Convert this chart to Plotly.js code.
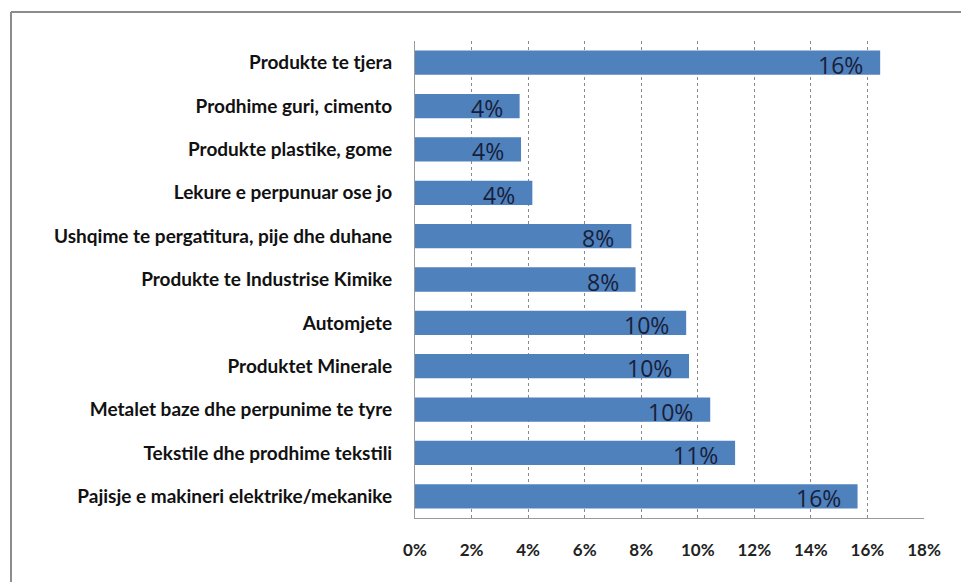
<!DOCTYPE html>
<html>
<head>
<meta charset="utf-8">
<script src="https://cdn.plot.ly/plotly-3.0.1.min.js"></script>
<style>html,body{margin:0;padding:0;background:#fff;}#chart{width:961px;height:582px;}</style>
</head>
<body>
<div id="chart"></div>
<script>
// Categories listed bottom to top
const categories = [
  "Pajisje e makineri elektrike/mekanike",
  "Tekstile dhe prodhime tekstili",
  "Metalet baze dhe perpunime te tyre",
  "Produktet Minerale",
  "Automjete",
  "Produkte te Industrise Kimike",
  "Ushqime te pergatitura, pije dhe duhane",
  "Lekure e perpunuar ose jo",
  "Produkte plastike, gome",
  "Prodhime guri, cimento",
  "Produkte te tjera"
];
const shares = [0.1565, 0.1132, 0.1044, 0.0969, 0.0959, 0.0780, 0.0765, 0.0415, 0.0375, 0.0370, 0.1645];
const tickValues = [0, 0.02, 0.04, 0.06, 0.08, 0.10, 0.12, 0.14, 0.16, 0.18];
const tickLabels = ["0%", "2%", "4%", "6%", "8%", "10%", "12%", "14%", "16%", "18%"];

const W = 961, H = 582;
const m = {l: 415, r: 37, t: 41, b: 64};
const pw = W - m.l - m.r, ph = H - m.t - m.b;
const px = x => (x - m.l) / pw;
const py = y => (H - m.b - y) / ph;

const trace = {
  type: 'bar',
  orientation: 'h',
  y: categories,
  x: shares,
  marker: {color: '#4F81BD', line: {width: 0}},
  hoverinfo: 'none',
  cliponaxis: false
};

const annotations = categories.map((c, i) => ({
  x: shares[i], y: c, xref: 'x', yref: 'y',
  text: Math.round(shares[i] * 100) + '%',
  showarrow: false, xanchor: 'right', yanchor: 'middle',
  xshift: -15, yshift: -2,
  font: {family: 'Open Sans, sans-serif', size: 23, color: '#17203a'}
}));

const layout = {
  width: W, height: H,
  margin: m,
  paper_bgcolor: '#ffffff',
  plot_bgcolor: '#ffffff',
  showlegend: false,
  bargap: 0.44,
  font: {family: 'Lato, sans-serif'},
  xaxis: {
    range: [0, 0.18],
    tickvals: tickValues,
    ticktext: tickLabels,
    showgrid: true,
    gridcolor: '#8a8a8a',
    griddash: 'dot',
    gridwidth: 1,
    zeroline: false,
    showline: true,
    linecolor: '#9a9a9a',
    linewidth: 1,
    ticks: '',
    ticklabelstandoff: 17,
    tickfont: {family: 'Lato, sans-serif', size: 17, color: '#222', weight: 'bold'},
    fixedrange: true
  },
  yaxis: {
    categoryorder: 'array',
    categoryarray: categories,
    showline: true,
    linecolor: '#9a9a9a',
    linewidth: 1,
    ticks: '',
    ticklabelstandoff: 18,
    showgrid: false,
    tickfont: {family: 'Lato, sans-serif', size: 19, color: '#111', weight: 'bold'},
    fixedrange: true
  },
  annotations: annotations,
  shapes: [
    {type: 'line', xref: 'paper', yref: 'paper', x0: px(11), x1: px(961), y0: py(12), y1: py(12), line: {color: '#8c8c8c', width: 2}},
    {type: 'line', xref: 'paper', yref: 'paper', x0: px(11), x1: px(11), y0: py(12), y1: py(582), line: {color: '#8c8c8c', width: 2}}
  ]
};

Plotly.newPlot('chart', [trace], layout, {displayModeBar: false, staticPlot: true});
</script>
</body>
</html>
